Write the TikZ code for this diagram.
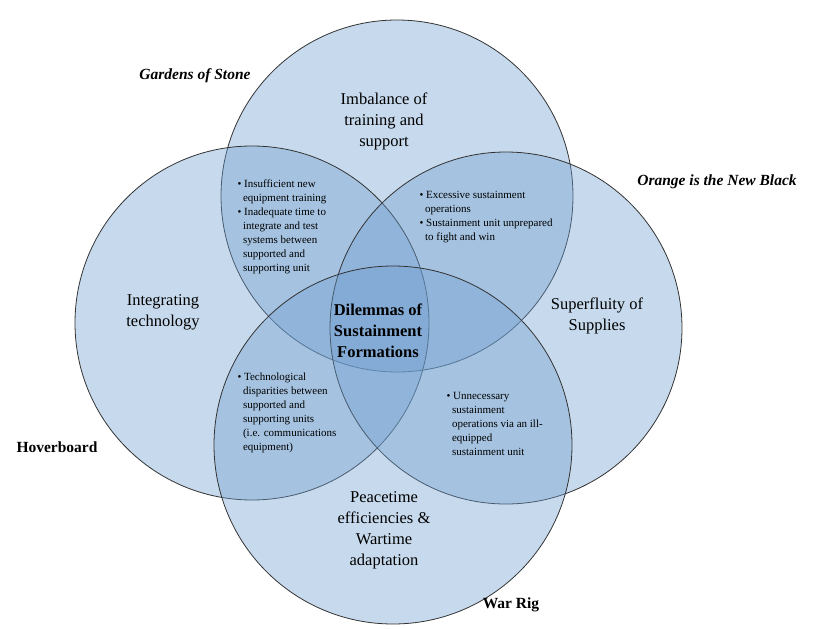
\documentclass[tikz,border=0pt]{standalone}
\usepackage{fontspec}
\setmainfont{Liberation Serif}
\begin{document}
\begin{tikzpicture}[x=1pt,y=-1pt,
  circ/.style={draw=black!80,line width=0.8pt,fill={rgb,255:red,110;green,158;blue,208},fill opacity=0.38},
  big/.style={font=\fontsize{16.5}{21}\selectfont,align=center},
  small/.style={font=\fontsize{11}{14}\selectfont,align=left,anchor=north west},
  title/.style={font=\bfseries\fontsize{15.5}{18}\selectfont}]
\useasboundingbox (0,0) rectangle (820,629);
\fill[white] (0,0) rectangle (820,629);
\path[circ] (397,196) circle (176);
\path[circ] (252,323) circle (177);
\path[circ] (506,328) circle (176);
\path[circ] (393,445) circle (179);
\node[title,font=\bfseries\itshape\fontsize{15.5}{18}\selectfont] (t1) at (195,76) {Gardens of Stone};
\node[title,font=\bfseries\itshape\fontsize{15.5}{18}\selectfont] (t2) at (717,182) {Orange is the New Black};
\node[title] (t3) at (57,447) {Hoverboard};
\node[title] (t4) at (511,605) {War Rig};
\node[big] (a) at (384,121) {Imbalance of\\training and\\support};
\node[big] (b) at (163,312) {Integrating\\technology};
\node[big] (c) at (597,316) {Superfluity of\\Supplies};
\node[big] (d) at (384,530) {Peacetime\\efficiencies \&\\Wartime\\adaptation};
\node[big,font=\bfseries\fontsize{16.5}{21}\selectfont] (m) at (378,331) {Dilemmas of\\Sustainment\\Formations};
\node[small] (s1) at (234,176) {• Insufficient new\\\ \ equipment training\\• Inadequate time to\\\ \ integrate and test\\\ \ systems between\\\ \ supported and\\\ \ supporting unit};
\node[small] (s2) at (416,188) {• Excessive sustainment\\\ \ operations\\• Sustainment unit unprepared\\\ \ to fight and win};
\node[small] (s3) at (234,369) {• Technological\\\ \ disparities between\\\ \ supported and\\\ \ supporting units\\\ \ (i.e. communications\\\ \ equipment)};
\node[small] (s4) at (443,389) {• Unnecessary\\\ \ sustainment\\\ \ operations via an ill-\\\ \ equipped\\\ \ sustainment unit};
\end{tikzpicture}
\end{document}
